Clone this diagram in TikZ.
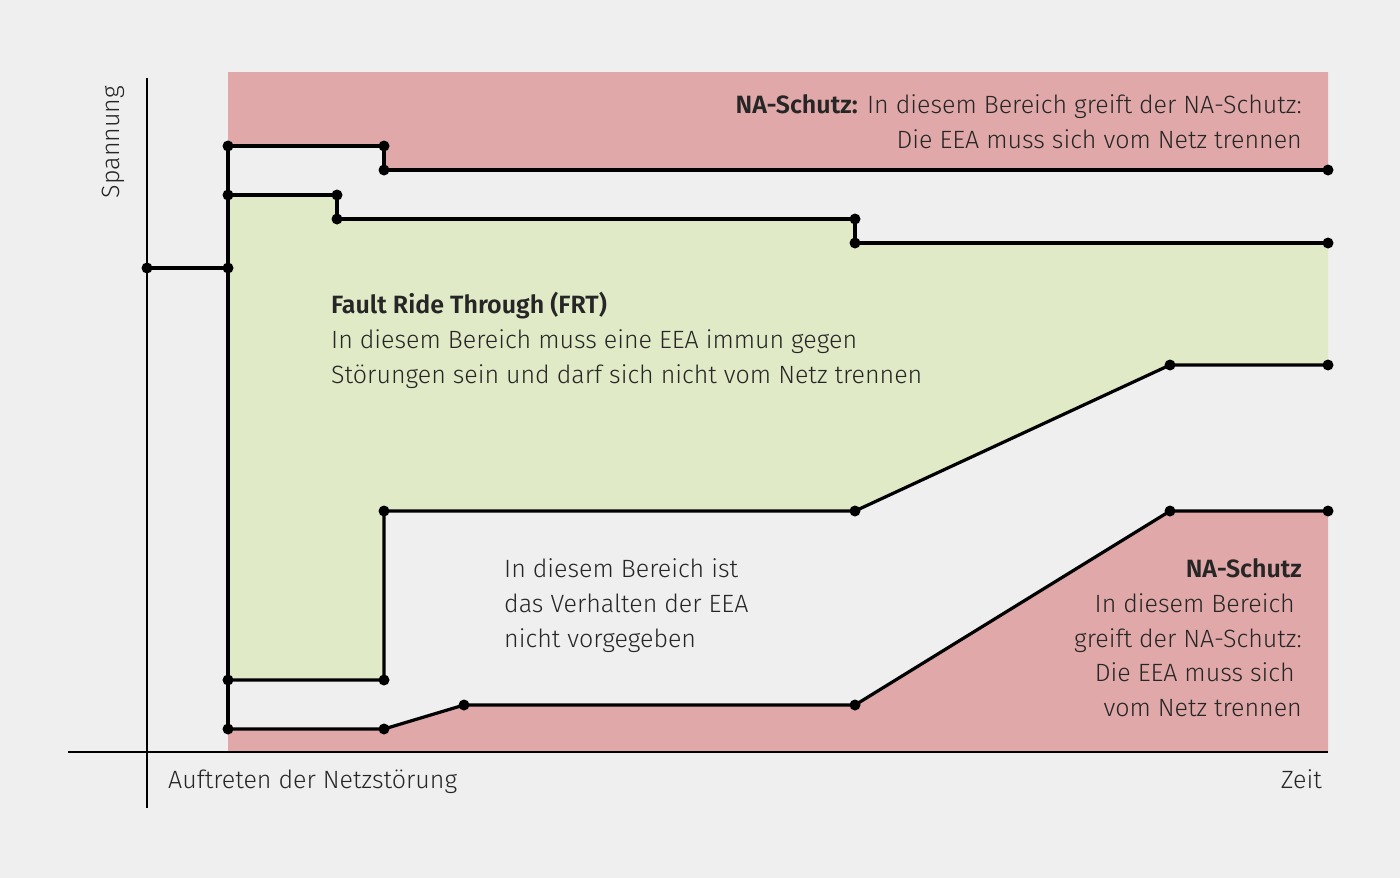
\documentclass[tikz,border=0pt]{standalone}
\usepackage{fontspec}
\setmainfont{Fira Sans Light}[BoldFont=Fira Sans SemiBold]
\begin{document}
\begin{tikzpicture}[x=1pt,y=-1pt,
  ln/.style={line width=3.2pt,line join=round},
  dot/.style={circle,fill=black,inner sep=0pt,minimum size=11pt},
  txt/.style={inner sep=0pt,font=\fontsize{25}{35}\selectfont,text=black!85}]
\definecolor{bg}{HTML}{EFEFEF}\definecolor{rd}{HTML}{E0A8A8}\definecolor{gr}{HTML}{E0EAC6}
\fill[bg] (0,0) rectangle (1400,878);
\useasboundingbox (0,0) rectangle (1400,878);
\fill[rd] (228,72) -- (1328,72) -- (1328,170) -- (384,170) -- (384,146) -- (228,146) -- cycle;
\fill[gr] (228,195) -- (337,195) -- (337,219) -- (855,219) -- (855,243) -- (1328,243) -- (1328,365) -- (1170,365) -- (855,511) -- (384,511) -- (384,680) -- (228,680) -- cycle;
\fill[rd] (228,729) -- (384,729) -- (464,705) -- (855,705) -- (1170,511) -- (1328,511) -- (1328,752) -- (228,752) -- cycle;
% axes
\coordinate (yb) at (147,808); \coordinate (yt) at (147,78);
\coordinate (xl) at (68,752); \coordinate (xr) at (1328,752);
\draw[line width=2pt] (yb) -- (yt); \draw[line width=2pt] (xl) -- (xr);
% coordinates
\foreach \n/\x/\y in {p0/147/268,p1/228/268,a0/228/146,a1/384/146,a2/384/170,a3/1328/170,
 b0/228/195,b1/337/195,b2/337/219,b3/855/219,b4/855/243,b5/1328/243,
 c0/228/680,c1/384/680,c2/384/511,c3/855/511,c4/1170/365,c5/1328/365,
 d0/228/729,d1/384/729,d2/464/705,d3/855/705,d4/1170/511,d5/1328/511}
 {\coordinate (\n) at (\x,\y);}
\draw[ln] (p0) -- (p1); \draw[ln] (a0) -- (d0);
\draw[ln] (a0) -- (a1) -- (a2) -- (a3);
\draw[ln] (b0) -- (b1) -- (b2) -- (b3) -- (b4) -- (b5);
\draw[ln] (c0) -- (c1) -- (c2) -- (c3) -- (c4) -- (c5);
\draw[ln] (d0) -- (d1) -- (d2) -- (d3) -- (d4) -- (d5);
\foreach \n in {p0,p1,a0,a1,a2,a3,b0,b1,b2,b3,b4,b5,c0,c1,c2,c3,c4,c5,d0,d1,d2,d3,d4,d5}
 \node[dot] at (\n) {};
% texts
\node[txt,anchor=base east] (t1) at (1302,113) {\textbf{NA-Schutz:} In diesem Bereich greift der NA-Schutz:};
\node[txt,anchor=base east] (t2) at (1302,148) {Die EEA muss sich vom Netz trennen};
\node[txt,anchor=base west] (f1) at (331,313) {\textbf{Fault Ride Through (FRT)}};
\node[txt,anchor=base west] (f2) at (331,348) {In diesem Bereich muss eine EEA immun gegen};
\node[txt,anchor=base west] (f3) at (331,383) {Störungen sein und darf sich nicht vom Netz trennen};
\node[txt,anchor=base west] (m1) at (504,577) {In diesem Bereich ist};
\node[txt,anchor=base west] (m2) at (504,612) {das Verhalten der EEA};
\node[txt,anchor=base west] (m3) at (504,647) {nicht vorgegeben};
\node[txt,anchor=base east] (r1) at (1302,577) {\textbf{NA-Schutz}};
\node[txt,anchor=base east] (r2) at (1295,612) {In diesem Bereich};
\node[txt,anchor=base east] (r3) at (1302,647) {greift der NA-Schutz:};
\node[txt,anchor=base east] (r4) at (1295,681) {Die EEA muss sich};
\node[txt,anchor=base east] (r5) at (1302,716) {vom Netz trennen};
\node[txt,rotate=90] (sp) at (113,142) {Spannung};
\node[txt,anchor=base west] (au) at (168,788) {Auftreten der Netzstörung};
\node[txt,anchor=base east] (ze) at (1322,788) {Zeit};
\end{tikzpicture}
\end{document}
